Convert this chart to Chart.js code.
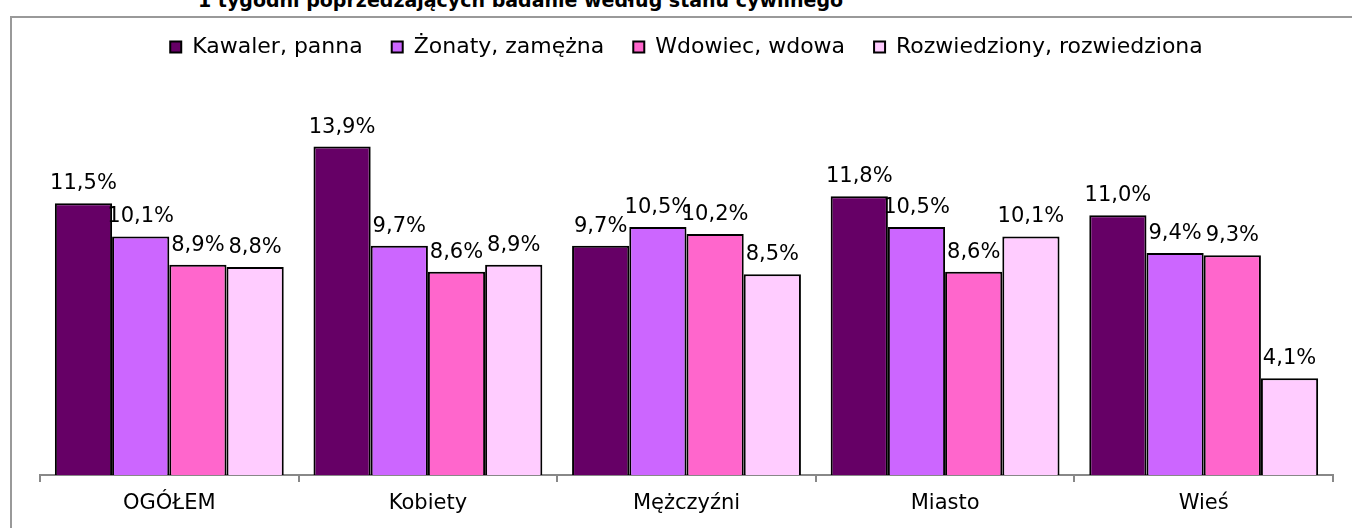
<!DOCTYPE html>
<html>
<head>
<meta charset="utf-8">
<script src="https://cdn.jsdelivr.net/npm/chart.js@4.4.1/dist/chart.umd.min.js"></script>
<style>
    html, body { margin: 0; padding: 0; background: #fff; overflow: hidden; }
    #wrap { position: relative; width: 1352px; height: 528px; overflow: hidden; }
    #frame {
        position: absolute; left: 10px; top: 16px; width: 1400px; height: 600px;
        border-left: 2px solid #999; border-top: 2px solid #999;
    }
    #title {
        position: absolute; left: 198px; top: -11px; white-space: nowrap;
        font: bold 19px "DejaVu Sans", Verdana, sans-serif; color: #000;
    }
    #chart { position: absolute; left: 0; top: 0; }
</style>
</head>
<body>
<div id="wrap">
    <div id="frame"></div>
    <div id="title">1 tygodni poprzedzających badanie według stanu cywilnego</div>
    <canvas id="chart" width="1352" height="528"></canvas>
</div>
<script>
// chart data
const categories = ['OGÓŁEM', 'Kobiety', 'Mężczyźni', 'Miasto', 'Wieś'];
const seriesNames = ['Kawaler, panna', 'Żonaty, zamężna', 'Wdowiec, wdowa', 'Rozwiedziony, rozwiedziona'];
const kawaler = [11.5, 13.9, 9.7, 11.8, 11.0];
const zonaty = [10.1, 9.7, 10.5, 10.5, 9.4];
const wdowiec = [8.9, 8.6, 10.2, 8.6, 9.3];
const rozwiedziony = [8.8, 8.9, 8.5, 10.1, 4.1];
const seriesColors = ['#660066', '#CC66FF', '#FF66CC', '#FFCCFF'];

const FONT = '"DejaVu Sans", Verdana, sans-serif';

// value labels above bars
const valueLabels = {
    id: 'valueLabels',
    afterDatasetsDraw(chart) {
        const ctx = chart.ctx;
        ctx.save();
        ctx.font = '21px ' + FONT;
        ctx.fillStyle = '#000';
        ctx.textAlign = 'center';
        ctx.textBaseline = 'alphabetic';
        chart.data.datasets.forEach((ds, i) => {
            chart.getDatasetMeta(i).data.forEach((bar, j) => {
                const txt = ds.data[j].toFixed(1).replace('.', ',') + '%';
                ctx.fillText(txt, bar.x, bar.y - 14);
            });
        });
        ctx.restore();
    }
};

// fixed legend height so the plot starts at the right place
const legendHeight = {
    id: 'legendHeight',
    beforeInit(chart) {
        const fit = chart.legend.fit;
        chart.legend.fit = function() {
            fit.bind(chart.legend)();
            this.height = 90;
        };
    }
};

const datasets = [kawaler, zonaty, wdowiec, rozwiedziony].map((vals, i) => ({
    label: seriesNames[i],
    data: vals,
    backgroundColor: seriesColors[i],
    borderColor: '#000',
    borderWidth: 2,
    borderSkipped: 'bottom',
    categoryPercentage: 0.885,
    barPercentage: 1.0
}));

new Chart(document.getElementById('chart'), {
    type: 'bar',
    data: { labels: categories, datasets: datasets },
    options: {
        responsive: false,
        animation: false,
        layout: { padding: { left: 40, right: 19, top: 7, bottom: 0 } },
        plugins: {
            legend: {
                position: 'top',
                labels: {
                    font: { family: FONT, size: 22 },
                    color: '#000',
                    boxWidth: 11,
                    boxHeight: 11,
                    padding: 29
                }
            },
            tooltip: { enabled: false }
        },
        scales: {
            x: {
                grid: {
                    drawOnChartArea: false,
                    drawTicks: true,
                    tickLength: 7,
                    color: '#888',
                    lineWidth: 2
                },
                border: { display: true, color: '#888', width: 2 },
                ticks: {
                    font: { family: FONT, size: 21 },
                    color: '#000',
                    padding: 9
                },
                afterFit(scale) { scale.height = 53; }
            },
            y: {
                display: false,
                min: 0,
                max: 16
            }
        }
    },
    plugins: [valueLabels, legendHeight]
});
</script>
</body>
</html>
